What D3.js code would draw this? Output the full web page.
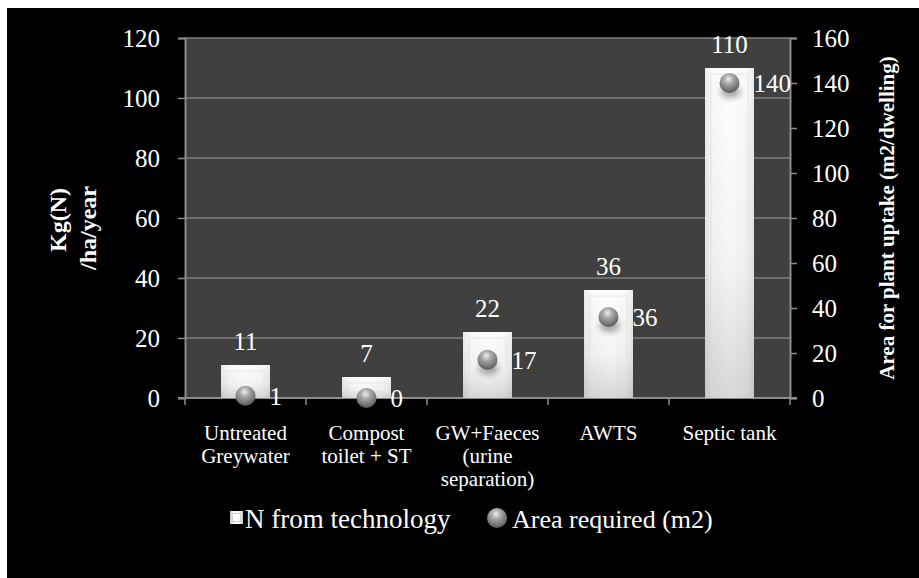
<!DOCTYPE html>
<html>
<head>
<meta charset="utf-8">
<script src="https://cdn.jsdelivr.net/npm/d3@7/dist/d3.min.js"></script>
<style>
  html, body { margin: 0; padding: 0; background: #ffffff; }
  svg { display: block; }
  svg text { font-family: "Liberation Serif", "Times New Roman", Times, serif !important; fill: #ffffff; }
</style>
</head>
<body>
<svg id="chart" width="919" height="578"></svg>
<script>
// Nitrogen load per technology and area needed for plant uptake
const categories = [
  ["Untreated", "Greywater"],
  ["Compost", "toilet + ST"],
  ["GW+Faeces", "(urine", "separation)"],
  ["AWTS"],
  ["Septic tank"]
];
const nitrogen = [11, 7, 22, 36, 110];      // Kg(N)/ha/year (left axis)
const areaRequired = [1, 0, 17, 36, 140];   // m2/dwelling (right axis)
const leftTicks = [0, 20, 40, 60, 80, 100, 120];
const rightTicks = [0, 20, 40, 60, 80, 100, 120, 140, 160];
const seriesNames = ["N from technology", "Area required (m2)"];

const FONT = "Liberation Serif, Times New Roman, serif";
const svg = d3.select("#chart").attr("font-family", FONT);
const defs = svg.append("defs");

// black card with a thin white margin on top/left
svg.append("rect").attr("x", 7).attr("y", 8).attr("width", 912).attr("height", 570).attr("fill", "#000");

const plot = { left: 185, right: 790, top: 38, bottom: 398 };

const x = d3.scaleBand().domain(d3.range(categories.length)).range([plot.left, plot.right]);
const yL = d3.scaleLinear().domain([0, 120]).range([plot.bottom, plot.top]);
const yR = d3.scaleLinear().domain([0, 160]).range([plot.bottom, plot.top]);

// gradients
const barGrad = defs.append("linearGradient").attr("id", "barGrad").attr("x1", 0).attr("x2", 0).attr("y1", 0).attr("y2", 1);
barGrad.append("stop").attr("offset", "0%").attr("stop-color", "#ffffff");
barGrad.append("stop").attr("offset", "60%").attr("stop-color", "#f0f0f0");
barGrad.append("stop").attr("offset", "100%").attr("stop-color", "#c8c8c8");

const sideGrad = defs.append("linearGradient").attr("id", "sideGrad").attr("x1", 0).attr("x2", 1).attr("y1", 0).attr("y2", 0);
sideGrad.append("stop").attr("offset", "0%").attr("stop-color", "#bcbcbc");
sideGrad.append("stop").attr("offset", "14%").attr("stop-color", "#e8e8e8");
sideGrad.append("stop").attr("offset", "50%").attr("stop-color", "#ffffff");
sideGrad.append("stop").attr("offset", "86%").attr("stop-color", "#e8e8e8");
sideGrad.append("stop").attr("offset", "100%").attr("stop-color", "#bcbcbc");

const ballGrad = defs.append("radialGradient").attr("id", "ballGrad").attr("cx", "45%").attr("cy", "30%").attr("r", "70%");
ballGrad.append("stop").attr("offset", "0%").attr("stop-color", "#eeeeee");
ballGrad.append("stop").attr("offset", "35%").attr("stop-color", "#a8a8a8");
ballGrad.append("stop").attr("offset", "100%").attr("stop-color", "#5a5a5a");

const shadow = defs.append("filter").attr("id", "soft").attr("x", "-50%").attr("y", "-50%").attr("width", "200%").attr("height", "200%");
shadow.append("feGaussianBlur").attr("stdDeviation", 3);

// plot area background
svg.append("rect").attr("x", plot.left).attr("y", plot.top)
  .attr("width", plot.right - plot.left).attr("height", plot.bottom - plot.top)
  .attr("fill", "#404040");

// gridlines
svg.append("g").selectAll("line").data(leftTicks.filter(d => d > 0)).join("line")
  .attr("x1", plot.left).attr("x2", plot.right)
  .attr("y1", d => yL(d)).attr("y2", d => yL(d))
  .attr("stroke", "#7f7f7f").attr("stroke-width", 1.5);

function styleAxis(g) {
  g.attr("font-family", FONT);
  g.select(".domain").attr("stroke", "#8c8c8c").attr("stroke-width", 2);
  g.selectAll(".tick line").attr("stroke", "#8c8c8c").attr("stroke-width", 1.5);
  g.selectAll(".tick text").attr("font-size", 25).attr("fill", "#fff").attr("font-family", FONT);
}

// left axis
svg.append("g").attr("transform", `translate(${plot.left},0)`)
  .call(d3.axisLeft(yL).tickValues(leftTicks).tickSize(7).tickPadding(18))
  .call(styleAxis);

// right axis
svg.append("g").attr("transform", `translate(${plot.right},0)`)
  .call(d3.axisRight(yR).tickValues(rightTicks).tickSize(7).tickPadding(15))
  .call(styleAxis);

// bottom axis: baseline with ticks between categories
svg.append("line").attr("x1", plot.left - 7).attr("x2", plot.right + 7)
  .attr("y1", plot.bottom).attr("y2", plot.bottom)
  .attr("stroke", "#8c8c8c").attr("stroke-width", 2);
svg.append("g").selectAll("line").data(d3.range(categories.length + 1)).join("line")
  .attr("x1", i => plot.left + i * x.bandwidth()).attr("x2", i => plot.left + i * x.bandwidth())
  .attr("y1", plot.bottom).attr("y2", plot.bottom + 7)
  .attr("stroke", "#8c8c8c").attr("stroke-width", 1.5);

// category labels
const catG = svg.append("g");
categories.forEach((lines, i) => {
  const cx = x(i) + x.bandwidth() / 2;
  const t = catG.append("text").attr("text-anchor", "middle").attr("font-size", 21)
    .attr("x", cx).attr("y", 440);
  lines.forEach((ln, j) => t.append("tspan").attr("x", cx).attr("dy", j === 0 ? 0 : 23).text(ln));
});

// bars
const barW = 49;
const barG = svg.append("g");
nitrogen.forEach((v, i) => {
  const cx = x(i) + x.bandwidth() / 2;
  const bx = cx - barW / 2, by = yL(v), bh = yL(0) - yL(v);
  const g = barG.append("g");
  g.append("rect").attr("x", bx).attr("y", by).attr("width", barW).attr("height", bh).attr("fill", "url(#sideGrad)");
  g.append("rect").attr("x", bx).attr("y", by).attr("width", barW).attr("height", bh).attr("fill", "url(#barGrad)").attr("opacity", 0.7);
  const inset = Math.min(6, bh / 3);
  g.append("rect").attr("x", bx + inset).attr("y", by + inset).attr("width", barW - 2 * inset).attr("height", Math.max(0, bh - 2 * inset))
    .attr("fill", "none").attr("stroke", "#dcdcdc").attr("stroke-width", 1).attr("opacity", 0.6);
  g.append("text").attr("x", cx).attr("y", by - 15).attr("text-anchor", "middle").attr("font-size", 25).text(v);
});

// area markers
const ptG = svg.append("g");
areaRequired.forEach((v, i) => {
  const cx = x(i) + x.bandwidth() / 2, cy = yR(v);
  ptG.append("ellipse").attr("cx", cx + 1).attr("cy", cy + 9).attr("rx", 10).attr("ry", 6)
    .attr("fill", "#000").attr("opacity", 0.35).attr("filter", "url(#soft)");
  ptG.append("circle").attr("cx", cx).attr("cy", cy).attr("r", 10).attr("fill", "url(#ballGrad)");
  ptG.append("text").attr("x", cx + 24).attr("y", cy + 9).attr("font-size", 25).text(v);
});

// axis titles
svg.append("text").attr("transform", "translate(66,220) rotate(-90)").attr("text-anchor", "middle")
  .attr("font-size", 24).attr("font-weight", "bold").text("Kg(N)");
svg.append("text").attr("transform", "translate(96,228) rotate(-90)").attr("text-anchor", "middle")
  .attr("font-size", 24).attr("font-weight", "bold").text("/ha/year");
svg.append("text").attr("transform", "translate(894,218) rotate(-90)").attr("text-anchor", "middle")
  .attr("font-size", 21).attr("font-weight", "bold").text("Area for plant uptake (m2/dwelling)");

// legend
const lg = svg.append("g");
lg.append("rect").attr("x", 230).attr("y", 511).attr("width", 13).attr("height", 13).attr("fill", "url(#sideGrad)");
lg.append("rect").attr("x", 232.5).attr("y", 513.5).attr("width", 8).attr("height", 8).attr("fill", "#ffffff").attr("stroke", "#c8c8c8").attr("stroke-width", 0.8);
lg.append("text").attr("x", 245).attr("y", 528).attr("font-size", 27).text(seriesNames[0]);
lg.append("circle").attr("cx", 497).attr("cy", 518).attr("r", 10).attr("fill", "url(#ballGrad)");
lg.append("text").attr("x", 512).attr("y", 528).attr("font-size", 26).text(seriesNames[1]);
</script>
</body>
</html>
